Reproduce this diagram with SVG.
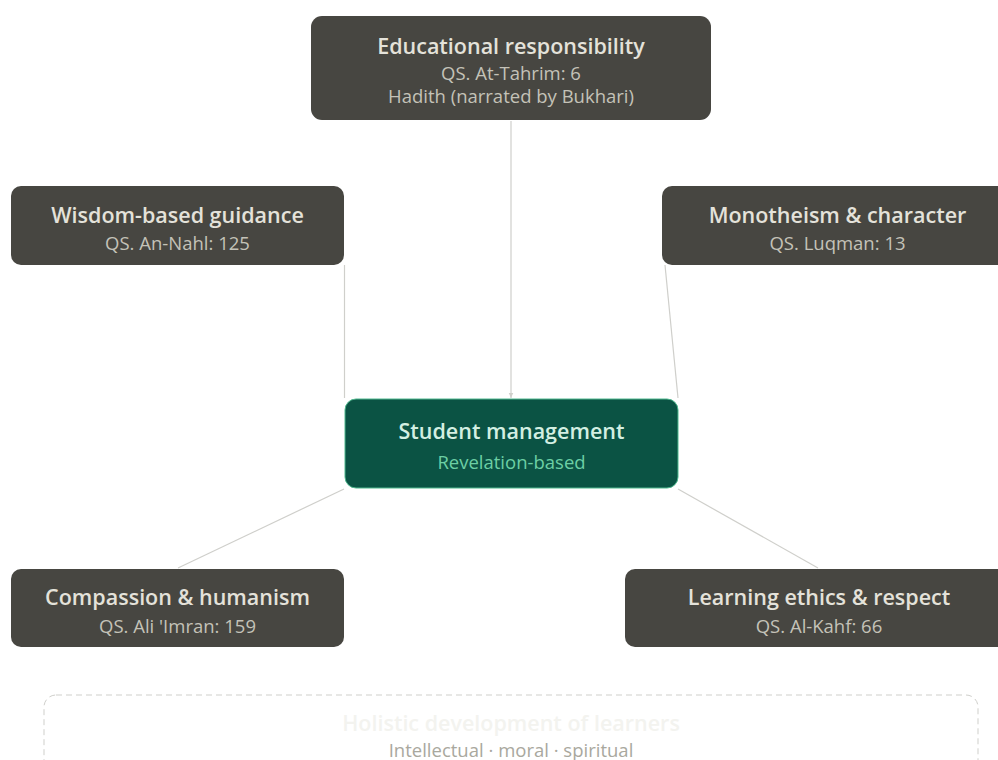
<svg xmlns="http://www.w3.org/2000/svg" width="998" height="760" viewBox="0 0 998 760">
<defs>
<style>
.node{fill:#474641;}
.t{font-family:"Open Sans","Noto Sans","Liberation Sans",sans-serif;font-size:21.5px;font-weight:600;fill:#e4e2da;text-anchor:middle;}
.s{font-family:"Open Sans","Noto Sans","Liberation Sans",sans-serif;font-size:18.5px;fill:#c4c2b8;text-anchor:middle;}
.edge{stroke:#cfcfcb;stroke-width:1.2;fill:none;}
</style>
<marker id="arr" viewBox="0 0 10 10" refX="9" refY="5" markerWidth="5" markerHeight="5" orient="auto">
<path d="M0,1 L9,5 L0,9 z" fill="#cfcfcb"/>
</marker>
</defs>
<rect width="998" height="760" fill="#ffffff"/>
<g id="connectors">
<line class="edge" x1="511" y1="121" x2="511" y2="398" marker-end="url(#arr)"/>
<line class="edge" x1="344.5" y1="265" x2="344.5" y2="398"/>
<line class="edge" x1="665" y1="265" x2="678" y2="398"/>
<line class="edge" x1="178" y1="568" x2="344" y2="489"/>
<line class="edge" x1="818" y1="568" x2="678" y2="489"/>
</g>
<g id="n-top">
<rect class="node" x="311" y="16" width="400" height="104" rx="11"/>
<text class="t" x="511" y="53.5">Educational responsibility</text>
<text class="s" x="511" y="79.5">QS. At-Tahrim: 6</text>
<text class="s" x="511" y="102.5">Hadith (narrated by Bukhari)</text>
</g>
<g id="n-wisdom">
<rect class="node" x="11" y="186" width="333" height="79" rx="10"/>
<text class="t" x="177.5" y="223">Wisdom-based guidance</text>
<text class="s" x="177.5" y="249.5">QS. An-Nahl: 125</text>
</g>
<g id="n-mono">
<rect class="node" x="662" y="186" width="351" height="79" rx="10"/>
<text class="t" x="837.5" y="223">Monotheism &amp; character</text>
<text class="s" x="837.5" y="249.5">QS. Luqman: 13</text>
</g>
<g id="n-center">
<rect x="345" y="399" width="333" height="89" rx="11" fill="#0b5344" stroke="#4fb88e" stroke-width="1"/>
<text class="t" x="511.5" y="439" style="fill:#d3efe2">Student management</text>
<text class="s" x="511.5" y="468.5" style="fill:#6ccfa4">Revelation-based</text>
</g>
<g id="n-compassion">
<rect class="node" x="11" y="569" width="333" height="78" rx="10"/>
<text class="t" x="177.5" y="605">Compassion &amp; humanism</text>
<text class="s" x="177.5" y="632.5">QS. Ali 'Imran: 159</text>
</g>
<g id="n-learning">
<rect class="node" x="625" y="569" width="388" height="78" rx="10"/>
<text class="t" x="819" y="605">Learning ethics &amp; respect</text>
<text class="s" x="819" y="632.5">QS. Al-Kahf: 66</text>
</g>
<g id="n-holistic">
<rect x="44" y="695" width="934" height="90" rx="12" fill="none" stroke="#cfcfcb" stroke-width="1" stroke-dasharray="6 4"/>
<text class="t" x="511" y="730.5" style="fill:#f3f3ef">Holistic development of learners</text>
<text class="s" x="511" y="756.5" style="fill:#a9a89e">Intellectual · moral · spiritual</text>
</g>
</svg>
